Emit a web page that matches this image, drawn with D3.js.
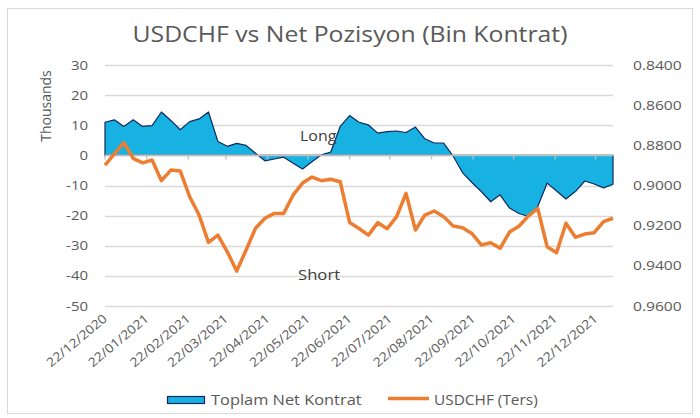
<!DOCTYPE html>
<html>
<head>
<meta charset="utf-8">
<script src="https://cdn.jsdelivr.net/npm/d3@7"></script>
<style>
  body { margin: 0; background: #fff; }
  text { font-family: "Open Sans", "DejaVu Sans", sans-serif; }
</style>
</head>
<body>
<div id="chart"></div>
<script>
// weekly COT dates
const dates = [
  "2020-12-22", "2020-12-29", "2021-01-05", "2021-01-12", "2021-01-19", "2021-01-26",
  "2021-02-02", "2021-02-09", "2021-02-16", "2021-02-23", "2021-03-02", "2021-03-09",
  "2021-03-16", "2021-03-23", "2021-03-30", "2021-04-06", "2021-04-13", "2021-04-20",
  "2021-04-27", "2021-05-04", "2021-05-11", "2021-05-18", "2021-05-25", "2021-06-01",
  "2021-06-08", "2021-06-15", "2021-06-22", "2021-06-29", "2021-07-06", "2021-07-13",
  "2021-07-20", "2021-07-27", "2021-08-03", "2021-08-10", "2021-08-17", "2021-08-24",
  "2021-08-31", "2021-09-07", "2021-09-14", "2021-09-21", "2021-09-28", "2021-10-05",
  "2021-10-12", "2021-10-19", "2021-10-26", "2021-11-02", "2021-11-09", "2021-11-16",
  "2021-11-23", "2021-11-30", "2021-12-07", "2021-12-14", "2021-12-21", "2021-12-28",
  "2022-01-04"
];

// Toplam Net Kontrat (thousands)
const netKontrat = [
  11.0, 11.8, 9.6, 11.8, 9.6, 9.9, 14.4, 11.6, 8.5, 11.2, 12.1, 14.4,
  4.6, 3.0, 4.0, 3.3, 0.7, -1.8, -1.2, -0.6, -2.6, -4.5, -2.1, 0.2,
  1.1, 9.6, 13.2, 11.0, 10.1, 7.4, 7.9, 8.1, 7.6, 9.4, 5.5, 4.1,
  4.1, -0.2, -5.7, -9.0, -12.0, -15.4, -13.1, -17.5, -19.3, -20.3, -17.0, -9.2,
  -11.8, -14.5, -12.0, -8.5, -9.5, -10.8, -9.6
];

// USDCHF (inverted axis)
const usdchf = [
  0.8898, 0.8843, 0.8787, 0.8865, 0.8887, 0.8873, 0.8976, 0.8923, 0.8928, 0.9056, 0.9147, 0.9283,
  0.9247, 0.9330, 0.9426, 0.9321, 0.9213, 0.9163, 0.9139, 0.9139, 0.9047, 0.8988, 0.8958, 0.8976,
  0.8969, 0.8981, 0.9184, 0.9214, 0.9247, 0.9185, 0.9215, 0.9155, 0.9039, 0.9222, 0.9147, 0.9127,
  0.9155, 0.9202, 0.9210, 0.9239, 0.9296, 0.9285, 0.9313, 0.9232, 0.9203, 0.9152, 0.9114, 0.9305,
  0.9335, 0.9188, 0.9258, 0.9242, 0.9235, 0.9180, 0.9163
];

const xTickLabels = [
  "22/12/2020", "22/01/2021", "22/02/2021", "22/03/2021", "22/04/2021", "22/05/2021",
  "22/06/2021", "22/07/2021", "22/08/2021", "22/09/2021", "22/10/2021", "22/11/2021",
  "22/12/2021"
];
const leftTicks = [-50, -40, -30, -20, -10, 0, 10, 20, 30];
const rightTicks = [0.84, 0.86, 0.88, 0.90, 0.92, 0.94, 0.96];

const width = 700;
const height = 418;
const plot = { left: 105, right: 613, top: 65, bottom: 306 };

const parse = d3.timeParse("%Y-%m-%d");
const parseLabel = d3.timeParse("%d/%m/%Y");
const data = dates.map((d, i) => ({ date: parse(d), net: netKontrat[i], fx: usdchf[i] }));

// the source chart's font is wider than Open Sans, so widen the glyphs a bit
function stretch(sel, k) {
  sel.each(function () {
    const len = this.getComputedTextLength();
    d3.select(this)
      .attr("textLength", len * k)
      .attr("lengthAdjust", "spacingAndGlyphs");
  });
}

const x = d3.scaleTime()
  .domain(d3.extent(data, d => d.date))
  .range([plot.left, plot.right]);

const yL = d3.scaleLinear().domain([-50, 30]).range([plot.bottom, plot.top]);
const yR = d3.scaleLinear().domain([0.84, 0.96]).range([plot.top, plot.bottom]);

const svg = d3.select("#chart").append("svg")
  .attr("width", width)
  .attr("height", height);

svg.append("rect")
  .attr("x", 7.5).attr("y", 8.5)
  .attr("width", 685).attr("height", 405)
  .attr("fill", "#fff")
  .attr("stroke", "#d9d9d9");

svg.append("text")
  .attr("x", 350).attr("y", 42)
  .attr("text-anchor", "middle")
  .attr("font-size", 21)
  .attr("fill", "#595959")
  .text("USDCHF vs Net Pozisyon (Bin Kontrat)")
  .call(stretch, 1.18);

// gridlines
svg.append("g")
  .selectAll("line")
  .data(leftTicks)
  .join("line")
  .attr("x1", plot.left).attr("x2", plot.right)
  .attr("y1", d => Math.round(yL(d)) + 0.5)
  .attr("y2", d => Math.round(yL(d)) + 0.5)
  .attr("stroke", "#d9d9d9")
  .attr("stroke-width", 1.3);

// left axis labels
svg.append("g")
  .selectAll("text")
  .data(leftTicks)
  .join("text")
  .attr("x", 88)
  .attr("y", d => yL(d))
  .attr("dy", "0.35em")
  .attr("text-anchor", "end")
  .attr("font-size", 13)
  .attr("fill", "#595959")
  .text(d => d)
  .call(stretch, 1.15);

// right axis labels
svg.append("g")
  .selectAll("text")
  .data(rightTicks)
  .join("text")
  .attr("x", 633)
  .attr("y", d => yR(d))
  .attr("dy", "0.35em")
  .attr("font-size", 13)
  .attr("fill", "#595959")
  .text(d => d3.format(".4f")(d))
  .call(stretch, 1.2);

svg.append("text")
  .attr("transform", "translate(51,106) rotate(-90)")
  .attr("text-anchor", "middle")
  .attr("font-size", 14)
  .attr("fill", "#595959")
  .text("Thousands");

// net position area
const area = d3.area()
  .x(d => x(d.date))
  .y0(yL(0))
  .y1(d => yL(d.net));

svg.append("path")
  .datum(data)
  .attr("d", area)
  .attr("fill", "#17b1e2")
  .attr("stroke", "#0e2a5e")
  .attr("stroke-width", 1.2)
  .attr("stroke-linejoin", "round");

// category axis on zero
const ticks = xTickLabels.map(parseLabel);
const axis = svg.append("g")
  .attr("transform", `translate(0,${yL(0)})`);
axis.append("line")
  .attr("x1", plot.left).attr("x2", plot.right)
  .attr("stroke", "#bfbfbf")
  .attr("stroke-width", 1.6);
axis.selectAll(".tick")
  .data(ticks)
  .join("line")
  .attr("class", "tick")
  .attr("x1", d => x(d)).attr("x2", d => x(d))
  .attr("y1", 0).attr("y2", 4)
  .attr("stroke", "#bfbfbf")
  .attr("stroke-width", 1.3);

// date labels under the plot
svg.append("g")
  .selectAll("text")
  .data(ticks)
  .join("text")
  .attr("transform", d => `translate(${x(d) + 3},${plot.bottom + 14}) rotate(-40)`)
  .attr("text-anchor", "end")
  .attr("font-size", 12.5)
  .attr("fill", "#595959")
  .text((d, i) => xTickLabels[i])
  .call(stretch, 1.12);

// USDCHF line
const line = d3.line()
  .x(d => x(d.date))
  .y(d => yR(d.fx));

svg.append("path")
  .datum(data)
  .attr("d", line)
  .attr("fill", "none")
  .attr("stroke", "#ed7d31")
  .attr("stroke-width", 3.5)
  .attr("stroke-linejoin", "round");

svg.append("text")
  .attr("x", 300).attr("y", 141)
  .attr("font-size", 14.5)
  .attr("fill", "#404040")
  .text("Long")
  .call(stretch, 1.1);

svg.append("text")
  .attr("x", 298).attr("y", 280)
  .attr("font-size", 14.5)
  .attr("fill", "#404040")
  .text("Short")
  .call(stretch, 1.15);

// legend
const legend = svg.append("g");
legend.append("rect")
  .attr("x", 167.5).attr("y", 396.5)
  .attr("width", 37).attr("height", 7)
  .attr("fill", "#17b1e2")
  .attr("stroke", "#0e2a5e")
  .attr("stroke-width", 1.2);
legend.append("text")
  .attr("x", 211).attr("y", 404.5)
  .attr("font-size", 14)
  .attr("fill", "#595959")
  .text("Toplam Net Kontrat")
  .call(stretch, 1.17);
legend.append("line")
  .attr("x1", 388).attr("x2", 429)
  .attr("y1", 398.5).attr("y2", 398.5)
  .attr("stroke", "#ed7d31")
  .attr("stroke-width", 3.5);
legend.append("text")
  .attr("x", 434).attr("y", 404.5)
  .attr("font-size", 14)
  .attr("fill", "#595959")
  .text("USDCHF (Ters)")
  .call(stretch, 1.1);
</script>
</body>
</html>
